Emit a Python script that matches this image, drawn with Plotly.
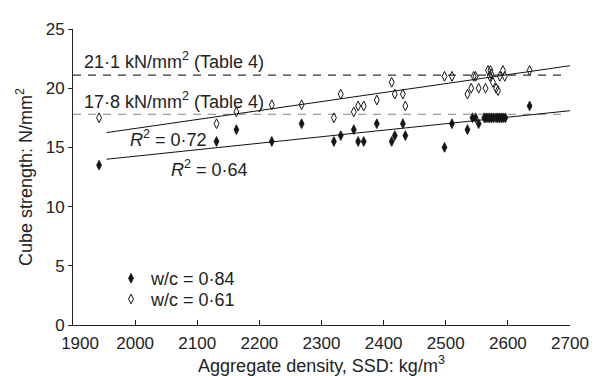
import plotly.graph_objects as go

# ---- data ----
density_084 = [1942, 2131, 2163, 2220, 2268, 2320, 2331, 2352, 2359, 2368, 2389, 2413, 2418, 2431, 2435,
               2498, 2510, 2535, 2543, 2548, 2553,
               2562, 2565, 2568, 2571, 2574, 2577, 2581, 2584, 2587, 2590, 2593, 2596, 2635]
strength_084 = [13.5, 15.5, 16.5, 15.5, 17.0, 15.5, 16.0, 16.5, 15.5, 15.5, 17.0, 15.5, 16.0, 17.0, 16.0,
                15.0, 17.0, 16.5, 17.5, 17.5, 17.0,
                17.5, 17.5, 17.5, 17.5, 17.5, 17.5, 17.5, 17.5, 17.5, 17.5, 17.5, 17.5, 18.5]

density_061 = [1942, 2131, 2163, 2220, 2268, 2320, 2331, 2352, 2359, 2368, 2389, 2413, 2418, 2431, 2435,
               2498, 2510, 2535, 2541, 2545, 2548, 2553, 2564, 2568, 2571, 2572, 2573, 2576, 2581, 2584,
               2587, 2592, 2595, 2635]
strength_061 = [17.5, 17.0, 18.0, 18.6, 18.6, 17.5, 19.5, 18.0, 18.5, 18.5, 19.0, 20.5, 19.5, 19.5, 18.5,
                21.0, 21.0, 19.5, 20.0, 21.0, 21.0, 20.0, 20.0, 21.5, 21.0, 21.5, 21.2, 20.5, 20.0, 19.8,
                21.0, 21.5, 21.0, 21.5]

trend_x = [1954, 2700]
trend_084 = [14.0, 18.1]
trend_061 = [16.25, 21.9]

ref_values = [21.1, 17.8]
ref_labels = ["21·1 kN/mm<sup>2</sup> (Table 4)", "17·8 kN/mm<sup>2</sup> (Table 4)"]
ref_colors = ["#333333", "#858585"]

r2_labels = ["<i>R</i><sup>2</sup> = 0·72", "<i>R</i><sup>2</sup> = 0·64"]

x_ticks = list(range(1900, 2701, 100))
x_ticktext = ["\u00a0\u00a0\u00a01900"] + [str(v) for v in x_ticks[1:]]
y_ticks = [0, 5, 10, 15, 20, 25]

FONT = "Liberation Sans, Arial, Helvetica, sans-serif"
TXT = "#222222"

fig = go.Figure()

# reference dashed lines
for v, c in zip(ref_values, ref_colors):
    fig.add_shape(type="line", xref="paper", x0=0, x1=0.99, yref="y", y0=v, y1=v,
                  line=dict(color=c, width=1.2, dash="8px,7px"), layer="below")

# trend lines
fig.add_trace(go.Scatter(x=trend_x, y=trend_061, mode="lines", line=dict(color="#111", width=1),
                         showlegend=False, hoverinfo="skip"))
fig.add_trace(go.Scatter(x=trend_x, y=trend_084, mode="lines", line=dict(color="#111", width=1),
                         showlegend=False, hoverinfo="skip"))

fig.add_trace(go.Scatter(x=density_084, y=strength_084, mode="markers", name="w/c = 0·84",
                         legend="legend",
                         marker=dict(symbol="diamond-tall", size=7, color="#151515",
                                     line=dict(color="#151515", width=0.8))))
fig.add_trace(go.Scatter(x=density_061, y=strength_061, mode="markers", name="w/c = 0·61",
                         legend="legend2",
                         marker=dict(symbol="diamond-tall-open", size=7, color="#151515",
                                     line=dict(color="#151515", width=1))))

# annotations
for v, lab in zip(ref_values, ref_labels):
    fig.add_annotation(x=1914, y=v + 1.2, text=lab, showarrow=False, xanchor="left", yanchor="middle",
                       font=dict(family=FONT, size=18, color=TXT))
fig.add_annotation(x=2054, y=15.75, text=r2_labels[0], showarrow=False,
                   xanchor="center", yanchor="middle", font=dict(family=FONT, size=18, color=TXT))
fig.add_annotation(x=2119, y=13.2, text=r2_labels[1], showarrow=False,
                   xanchor="center", yanchor="middle", font=dict(family=FONT, size=18, color=TXT))

leg_common = dict(xanchor="left", yanchor="middle", bgcolor="rgba(0,0,0,0)",
                  font=dict(family=FONT, size=18, color=TXT), itemsizing="trace")

fig.update_layout(
    width=610, height=376,
    margin=dict(l=65, r=48, t=20, b=57),
    paper_bgcolor="white", plot_bgcolor="white",
    font=dict(family=FONT, size=17, color=TXT),
    legend=dict(x=0.0765, y=0.157, **leg_common),
    legend2=dict(x=0.0765, y=0.087, **leg_common),
    xaxis=dict(range=[1900, 2700], tickvals=x_ticks, ticktext=x_ticktext, ticks="inside", ticklen=5,
               tickcolor="#222", showline=True, linecolor="#222", linewidth=1, showgrid=False,
               zeroline=False, tickfont=dict(family=FONT, size=17, color=TXT), ticklabelstandoff=3,
               title=dict(text="Aggregate density, SSD: kg/m<sup>3</sup>", standoff=6,
                          font=dict(family=FONT, size=18, color=TXT))),
    yaxis=dict(range=[0, 25], tickvals=y_ticks, ticks="outside", ticklen=4, tickcolor="#222",
               showline=True, linecolor="#222", linewidth=1, showgrid=False, zeroline=False,
               tickfont=dict(family=FONT, size=17, color=TXT),
               title=dict(text="Cube strength: N/mm<sup>2</sup>", standoff=8,
                          font=dict(family=FONT, size=18, color=TXT))),
)

fig.write_html("out.html")
